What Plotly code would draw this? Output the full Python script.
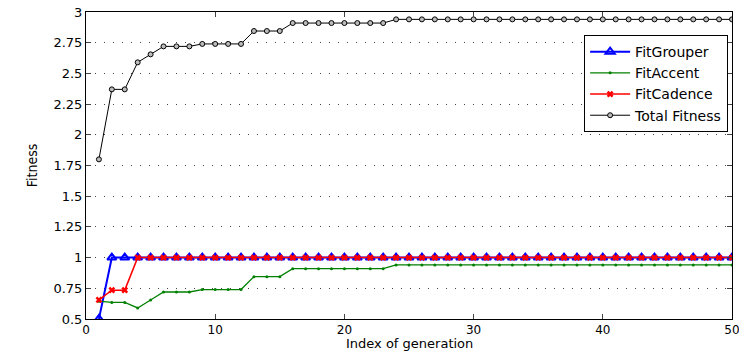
import plotly.graph_objects as go

gen = list(range(1, 51))
fit_grouper = [0.5] + [1.0] * 49
fit_cadence = [0.655, 0.735, 0.735] + [1.0] * 47
fit_accent = ([0.645, 0.635, 0.635, 0.59, 0.655, 0.72, 0.72, 0.72,
               0.74, 0.74, 0.74, 0.74, 0.845, 0.845, 0.845]
              + [0.91] * 8 + [0.94] * 27)
total_fitness = [g + a + c for g, a, c in zip(fit_grouper, fit_accent, fit_cadence)]

y_ticks = [0.5, 0.75, 1, 1.25, 1.5, 1.75, 2, 2.25, 2.5, 2.75, 3]
y_labels = ["0.5", "0.75", "1", "1.25", "1.5", "1.75", "2", "2.25", "2.5", "2.75", "3"]
x_ticks = [0, 10, 20, 30, 40, 50]

fig = go.Figure()
fig.add_trace(go.Scatter(x=gen, y=fit_grouper, name="FitGrouper", mode="lines+markers",
                         line=dict(color="#0000ff", width=2),
                         marker=dict(symbol="triangle-up-open", size=8,
                                     line=dict(color="#0000ff", width=2))))
fig.add_trace(go.Scatter(x=gen, y=fit_accent, name="FitAccent", mode="lines+markers",
                         line=dict(color="#008000", width=1.3),
                         marker=dict(symbol="circle", size=3, color="#008000")))
fig.add_trace(go.Scatter(x=gen, y=fit_cadence, name="FitCadence", mode="lines+markers",
                         line=dict(color="#ff0000", width=1.5),
                         marker=dict(symbol="x-thin-open", size=5,
                                     line=dict(color="#ff0000", width=2.5))))
fig.add_trace(go.Scatter(x=gen, y=total_fitness, name="Total Fitness", mode="lines+markers",
                         line=dict(color="#000000", width=1),
                         marker=dict(symbol="circle", size=5, color="#bbbbbb",
                                     line=dict(color="#000000", width=1))))

font = "DejaVu Sans, Liberation Sans, sans-serif"
fig.update_layout(
    width=739, height=352,
    margin=dict(l=86, r=7, t=12, b=33),
    paper_bgcolor="white", plot_bgcolor="white",
    font=dict(family=font, size=13, color="black"),
    showlegend=True,
    legend=dict(x=0.994, y=0.925, xanchor="right", yanchor="top",
                bgcolor="white", bordercolor="black", borderwidth=1,
                font=dict(size=14), tracegroupgap=0, itemwidth=40),
    xaxis=dict(range=[0, 50], tickvals=x_ticks, ticks="inside", ticklen=5,
               showline=True, linecolor="black", linewidth=1, mirror="ticks",
               showgrid=False, zeroline=False, tickfont=dict(size=12),
               automargin=False, ticklabeloverflow="allow", ticklabelstandoff=0),
    yaxis=dict(range=[0.5, 3], tickvals=y_ticks, ticktext=y_labels, ticks="inside", ticklen=5,
               showline=True, linecolor="black", linewidth=1, mirror="ticks",
               showgrid=True, gridcolor="#444444", griddash="1px,8px", gridwidth=1,
               zeroline=False, tickfont=dict(size=13), automargin=False,
               ticklabeloverflow="allow",
               title=dict(text="Fitness", standoff=12,
                          font=dict(size=14, family="Liberation Sans Narrow, DejaVu Sans Condensed, sans-serif"))),
    annotations=[dict(text="Index of generation", xref="paper", yref="paper",
                      x=0.5, y=0, xanchor="center", yanchor="top", yshift=-16,
                      borderpad=0, showarrow=False, font=dict(size=13))],
)
fig.write_html("out.html")
